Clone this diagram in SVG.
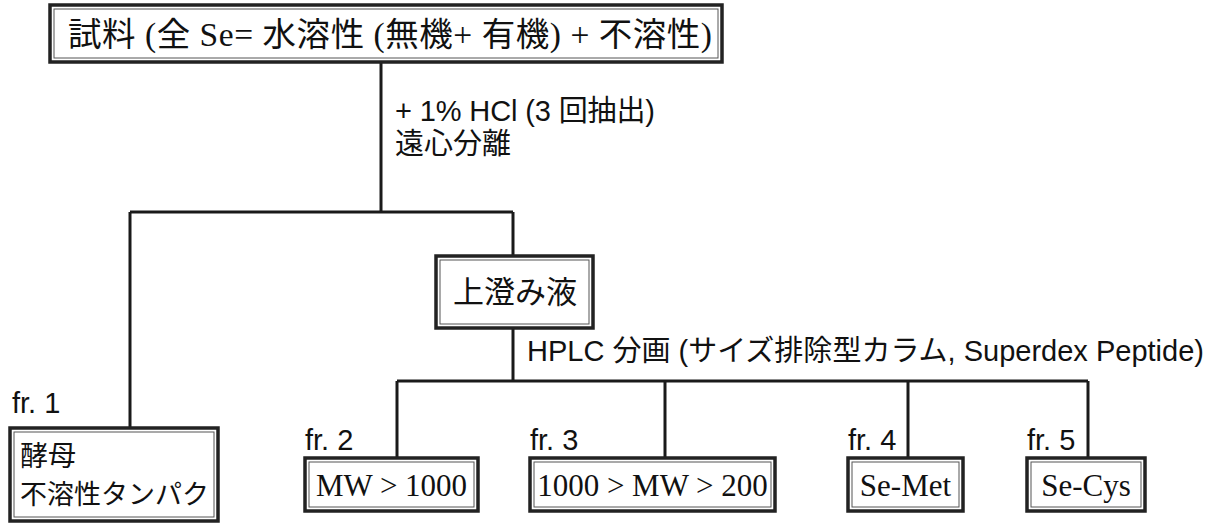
<svg xmlns="http://www.w3.org/2000/svg" width="1215" height="527" viewBox="0 0 1215 527">
<style>
.box{fill:#fff;stroke:#222;stroke-width:3.5}
.inner{fill:none;stroke:#555;stroke-width:1}
.ln{fill:none;stroke:#1a1a1a;stroke-width:3}
.ser{font-family:"Liberation Serif","Noto Sans CJK JP",serif;fill:#111}
.san{font-family:"Liberation Sans","Noto Sans CJK JP",sans-serif;fill:#111}
</style>
<rect width="1215" height="527" fill="#fff"/>
<g id="connectors">
<path class="ln" d="M381 62 V212 M130 212 H513 M130 212 V428 M513 212 V256"/>
<path class="ln" d="M513 328 V381 M397 381 H1088 M397 381 V458 M665 381 V458 M908 381 V458 M1088 381 V458"/>
</g>
<g id="labels">
<text class="san" x="395" y="121" font-size="29" textLength="260" lengthAdjust="spacing">+ 1% HCl (3 回抽出)</text>
<text class="san" x="395" y="154" font-size="29">遠心分離</text>
<text class="san" x="527" y="361" font-size="29" textLength="677" lengthAdjust="spacing">HPLC 分画 (サイズ排除型カラム, Superdex Peptide)</text>
<text class="san" x="12" y="413" font-size="29">fr. 1</text>
<text class="san" x="305" y="450" font-size="29">fr. 2</text>
<text class="san" x="530" y="450" font-size="29">fr. 3</text>
<text class="san" x="848" y="450" font-size="29">fr. 4</text>
<text class="san" x="1027" y="450" font-size="29">fr. 5</text>
</g>
<g id="sample">
<rect class="box" x="50" y="5" width="672" height="57"/>
<rect class="inner" x="54" y="9" width="664" height="49"/>
<text class="ser" x="68" y="46" font-size="33.5" textLength="644" lengthAdjust="spacing">試料 (全 Se= 水溶性 (無機+ 有機) + 不溶性)</text>
</g>
<g id="supernatant">
<rect class="box" x="436" y="256" width="157" height="72"/>
<rect class="inner" x="440" y="260" width="149" height="64"/>
<text class="ser" x="515" y="303" font-size="31" text-anchor="middle">上澄み液</text>
</g>
<g id="fr1">
<rect class="box" x="10" y="428" width="208" height="93"/>
<rect class="inner" x="14" y="432" width="200" height="85"/>
<text class="ser" x="20" y="466" font-size="28">酵母</text>
<text class="ser" x="20" y="504" font-size="27">不溶性タンパク</text>
</g>
<g id="fr2">
<rect class="box" x="305" y="458" width="173" height="53"/>
<rect class="inner" x="309" y="462" width="165" height="45"/>
<text class="ser" x="391.5" y="496" font-size="31" text-anchor="middle">MW &gt; 1000</text>
</g>
<g id="fr3">
<rect class="box" x="530" y="458" width="245" height="53"/>
<rect class="inner" x="534" y="462" width="237" height="45"/>
<text class="ser" x="652.5" y="496" font-size="31" text-anchor="middle">1000 &gt; MW &gt; 200</text>
</g>
<g id="fr4">
<rect class="box" x="848" y="458" width="115" height="53"/>
<rect class="inner" x="852" y="462" width="107" height="45"/>
<text class="ser" x="905.5" y="496" font-size="31" text-anchor="middle">Se-Met</text>
</g>
<g id="fr5">
<rect class="box" x="1027" y="458" width="118" height="53"/>
<rect class="inner" x="1031" y="462" width="110" height="45"/>
<text class="ser" x="1086" y="496" font-size="31" text-anchor="middle">Se-Cys</text>
</g>
</svg>
